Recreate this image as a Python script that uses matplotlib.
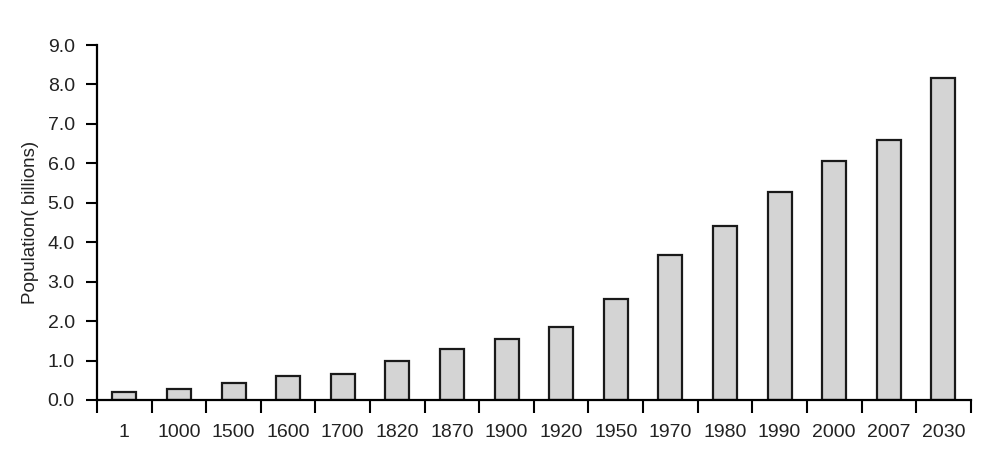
import matplotlib.pyplot as plt
import numpy as np

years = ['1', '1000', '1500', '1600', '1700', '1820', '1870', '1900',
         '1920', '1950', '1970', '1980', '1990', '2000', '2007', '2030']
population = [0.21, 0.27, 0.42, 0.60, 0.65, 1.00, 1.29, 1.55,
              1.86, 2.55, 3.68, 4.42, 5.28, 6.07, 6.60, 8.17]
yticks = [0.0, 1.0, 2.0, 3.0, 4.0, 5.0, 6.0, 7.0, 8.0, 9.0]

plt.rcParams['font.family'] = ['Liberation Sans', 'DejaVu Sans']

fig = plt.figure(figsize=(9.94, 4.55), dpi=100)
ax = fig.add_axes([0.0976, 0.121, 0.879, 0.780])

x = np.arange(len(years))
ax.bar(x, population, width=0.44, color='#d4d4d4', edgecolor='#1a1a1a', linewidth=1.6)

ax.set_xlim(-0.5, len(years) - 0.5)
ax.set_ylim(0, 9)
ax.set_yticks(yticks)
ax.set_yticklabels(['%.1f' % v for v in yticks])

# labels centred under bars, tick marks between categories
ax.set_xticks(x)
ax.set_xticklabels(years)
ax.set_xticks(np.arange(len(years) + 1) - 0.5, minor=True)
ax.tick_params(axis='x', which='major', length=0, pad=17, labelsize=14, labelcolor='#222222')
ax.tick_params(axis='x', which='minor', length=9, width=1.5, direction='out')
ax.tick_params(axis='y', length=8, width=1.5, direction='out', pad=8, labelsize=14, labelcolor='#222222')

for s in ['top', 'right']:
    ax.spines[s].set_visible(False)
ax.spines['left'].set_linewidth(1.6)
ax.spines['bottom'].set_linewidth(1.6)

ax.set_ylabel('Population( billions)', fontsize=13.5, labelpad=6, color='#222222')

fig.savefig('out.png', dpi=100)
